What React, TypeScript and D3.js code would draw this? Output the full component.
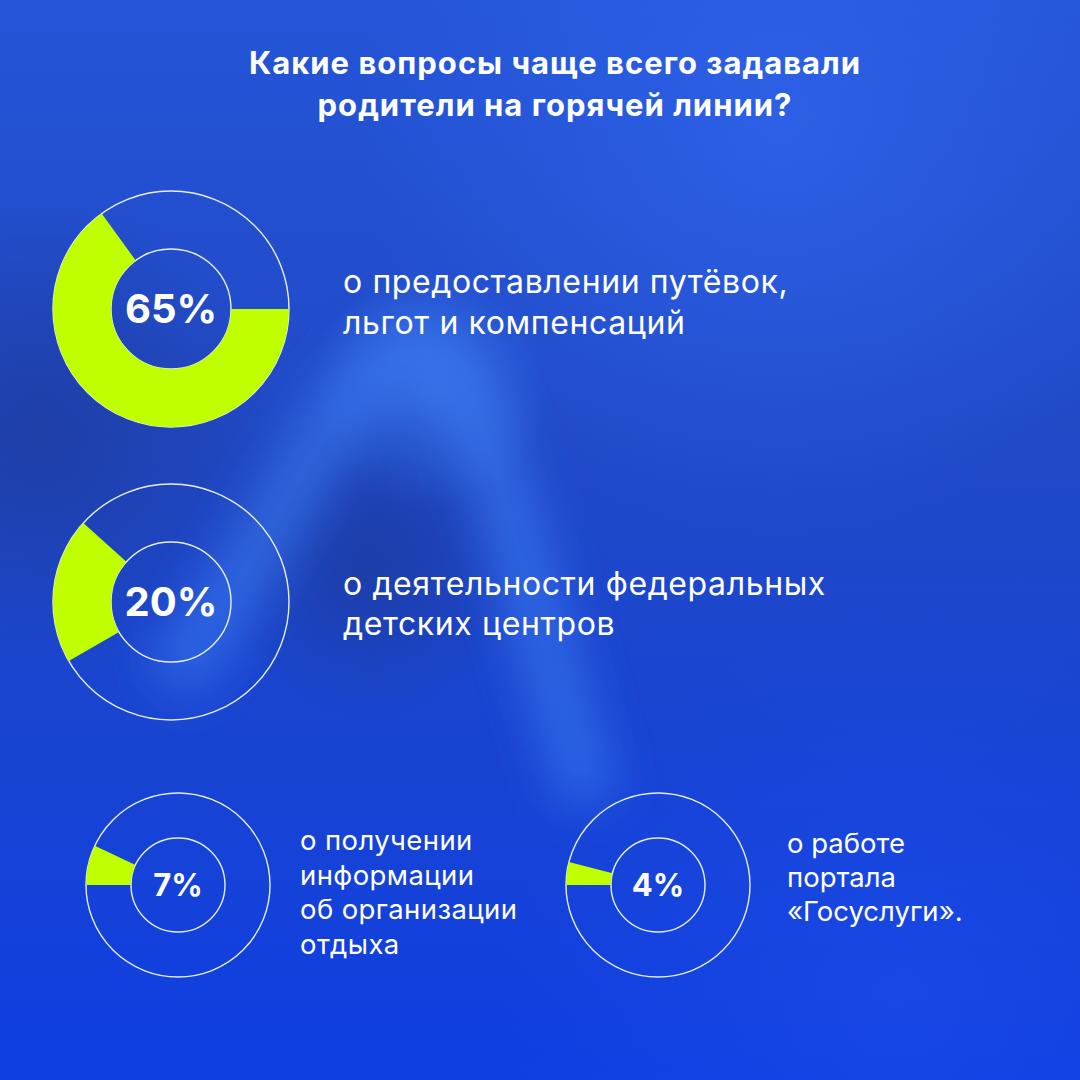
import React from "react";
import * as d3 from "d3";

// ---- data ----
const titleLines = ["Какие вопросы чаще всего задавали", "родители на горячей линии?"];
const shares = [65, 20, 7, 4];
const shareLabels = ["65%", "20%", "7%", "4%"];
const topics = [
  ["о предоставлении путёвок,", "льгот и компенсаций"],
  ["о деятельности федеральных", "детских центров"],
  ["о получении", "информации", "об организации", "отдыха"],
  ["о работе", "портала", "«Госуслуги»."],
];
const startDegrees = [90, 240, 270, 270];

// ---- layout / style ----
const W = 1080;
const H = 1080;
const GREEN = "#c0ff00";
const FONT = "Inter, 'Noto Sans', sans-serif";
const layout = [
  { cx: 171, cy: 309, ro: 118, ri: 60, pct: 40, tx: 343, ty: 293, fs: 32, ls: 0.6, lh: 41 },
  { cx: 171, cy: 602, ro: 118, ri: 60, pct: 40, tx: 343, ty: 595, fs: 32, ls: 0.6, lh: 40 },
  { cx: 178, cy: 885, ro: 92, ri: 47, pct: 31, tx: 300, ty: 850, fs: 27.5, ls: 0.4, lh: 34.5 },
  { cx: 658, cy: 885, ro: 92, ri: 47, pct: 31, tx: 787, ty: 853, fs: 27.5, ls: 0, lh: 34 },
];

const angle = d3.scaleLinear().domain([0, 100]).range([0, 2 * Math.PI]);
const deg = (d: number) => (d * Math.PI) / 180;

export default function App() {
  const arc = d3.arc<any>();
  return (
    <svg
      width={W}
      height={H}
      viewBox={`0 0 ${W} ${H}`}
      style={{ position: "absolute", left: 0, top: 0, display: "block" }}
    >
      <defs>
        <linearGradient id="bg" x1="0" y1="0" x2="0" y2="1">
          <stop offset="0" stopColor="#2455d8" />
          <stop offset="0.4" stopColor="#2149c6" />
          <stop offset="0.7" stopColor="#1844d2" />
          <stop offset="1" stopColor="#0f3ee2" />
        </linearGradient>
        <radialGradient id="tr" cx="780" cy="120" r="420" gradientUnits="userSpaceOnUse">
          <stop offset="0" stopColor="#2e63ea" stopOpacity="0.8" />
          <stop offset="1" stopColor="#2e63ea" stopOpacity="0" />
        </radialGradient>
        <radialGradient id="dl" cx="40" cy="430" r="240" gradientUnits="userSpaceOnUse">
          <stop offset="0" stopColor="#1d3a98" stopOpacity="0.7" />
          <stop offset="1" stopColor="#1d3a98" stopOpacity="0" />
        </radialGradient>
        <radialGradient id="dm" cx="370" cy="560" r="160" gradientUnits="userSpaceOnUse">
          <stop offset="0" stopColor="#1c3a9c" stopOpacity="0.75" />
          <stop offset="1" stopColor="#1c3a9c" stopOpacity="0" />
        </radialGradient>
        <radialGradient id="br" cx="900" cy="1000" r="400" gradientUnits="userSpaceOnUse">
          <stop offset="0" stopColor="#1a4ae8" stopOpacity="0.7" />
          <stop offset="1" stopColor="#1a4ae8" stopOpacity="0" />
        </radialGradient>
        <radialGradient id="pk" cx="430" cy="390" r="120" gradientUnits="userSpaceOnUse">
          <stop offset="0" stopColor="#3f80f4" stopOpacity="0.55" />
          <stop offset="1" stopColor="#3f80f4" stopOpacity="0" />
        </radialGradient>
        <filter id="blur" x="-50%" y="-50%" width="200%" height="200%">
          <feGaussianBlur stdDeviation="24" />
        </filter>
      </defs>

      <rect width={W} height={H} fill="url(#bg)" />
      <rect width={W} height={H} fill="url(#tr)" />
      <rect width={W} height={H} fill="url(#dl)" />
      <rect width={W} height={H} fill="url(#dm)" />
      <rect width={W} height={H} fill="url(#br)" />
      <path
        d="M 170 680 C 270 560, 340 360, 415 345 C 480 335, 520 580, 590 800"
        fill="none"
        stroke="#3d7ef4"
        strokeWidth={56}
        strokeOpacity={0.6}
        filter="url(#blur)"
      />
      <rect width={W} height={H} fill="url(#pk)" />

      {titleLines.map((t, i) => (
        <text
          key={i}
          x={555}
          y={74 + i * 42}
          textAnchor="middle"
          fill="#fff"
          fontFamily={FONT}
          fontWeight={700}
          fontSize={31}
          letterSpacing={1}
        >
          {t}
        </text>
      ))}

      {shares.map((v, i) => {
        const L = layout[i];
        const s = deg(startDegrees[i]);
        const path = arc({
          innerRadius: L.ri,
          outerRadius: L.ro,
          startAngle: s,
          endAngle: s + angle(v),
        }) as string;
        return (
          <g key={i}>
            <g transform={`translate(${L.cx},${L.cy})`}>
              <circle r={L.ro} fill="none" stroke="#fff" strokeWidth={1.4} strokeOpacity={0.9} />
              <circle r={L.ri} fill="none" stroke="#fff" strokeWidth={1.4} strokeOpacity={0.9} />
              <path d={path} fill={GREEN} />
              <text
                y={L.pct * 0.36}
                textAnchor="middle"
                fill="#fff"
                fontFamily={FONT}
                fontWeight={700}
                fontSize={L.pct}
              >
                {shareLabels[i]}
              </text>
            </g>
            {topics[i].map((line, j) => (
              <text
                key={j}
                x={L.tx}
                y={L.ty + j * L.lh}
                fill="#fff"
                fontFamily={FONT}
                fontWeight={400}
                fontSize={L.fs}
                letterSpacing={L.ls}
              >
                {line}
              </text>
            ))}
          </g>
        );
      })}
    </svg>
  );
}
